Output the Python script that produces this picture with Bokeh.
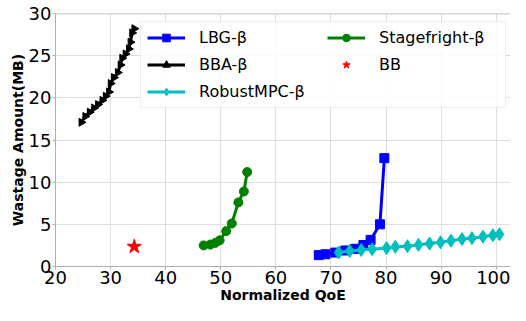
import numpy as np
from bokeh.plotting import figure
from bokeh.models import Range1d, FixedTicker, Legend, LegendItem, Span
from bokeh.embed import file_html
from bokeh.resources import INLINE

# ---- data ----
lbg_x = [67.8, 69.0, 70.8, 72.6, 74.4, 75.9, 77.2, 78.9, 79.7]
lbg_y = [1.35, 1.45, 1.65, 1.9, 2.1, 2.55, 3.15, 5.0, 12.85]

bba_x = [24.7, 25.4, 26.2, 27.0, 27.7, 28.5, 29.1, 29.7, 30.0, 30.6, 31.3, 31.8, 32.1, 32.7, 33.3, 33.6, 33.9, 34.3]
bba_y = [17.1, 17.8, 18.3, 18.8, 19.2, 19.7, 20.2, 20.7, 21.7, 22.4, 23.0, 23.9, 24.7, 25.2, 25.8, 26.6, 27.7, 28.2]

mpc_x = [71.4, 73.4, 75.5, 77.5, 80.1, 81.7, 83.9, 85.9, 87.9, 89.9, 91.8, 93.8, 95.6, 97.6, 99.4, 100.6]
mpc_y = [1.66, 1.85, 1.96, 2.04, 2.19, 2.34, 2.41, 2.57, 2.72, 2.87, 3.06, 3.25, 3.36, 3.54, 3.70, 3.82]

sf_x = [46.9, 48.1, 49.0, 49.8, 51.0, 52.0, 53.2, 54.2, 54.8]
sf_y = [2.5, 2.6, 2.8, 3.1, 4.2, 5.1, 7.6, 8.9, 11.2]

bb_x = [34.3]
bb_y = [2.35]

x_ticks = [20, 30, 40, 50, 60, 70, 80, 90, 100]
y_ticks = [0, 5, 10, 15, 20, 25, 30]

FONT = "DejaVu Sans"

p = figure(width=510, height=305, output_backend="svg", toolbar_location=None,
           x_range=Range1d(20, 102.6), y_range=Range1d(0, 30),
           min_border_left=55, min_border_right=0, min_border_top=13, min_border_bottom=0)

p.outline_line_color = None
p.background_fill_color = "white"

for ax in (p.xaxis, p.yaxis):
    ax.axis_line_color = "#b0b0b0"
    ax.major_tick_line_color = "#b0b0b0"
    ax.minor_tick_line_color = None
    ax.major_tick_out = 3
    ax.major_tick_in = 0
    ax.major_label_text_font = FONT
    ax.major_label_text_font_size = "18px"
    ax.major_label_text_color = "black"
    ax.axis_label_text_font = FONT
    ax.axis_label_text_font_style = "bold"
    ax.axis_label_text_font_size = "14px"
    ax.axis_label_text_color = "black"
    ax.major_label_standoff = 1
    ax.axis_label_standoff = 0

p.xaxis.ticker = FixedTicker(ticks=x_ticks)
p.yaxis.ticker = FixedTicker(ticks=y_ticks)
p.xaxis.axis_label = "Normalized QoE"
p.yaxis.axis_label = "Wastage Amount(MB)"

p.xgrid.ticker = FixedTicker(ticks=x_ticks)
p.ygrid.ticker = FixedTicker(ticks=y_ticks)
p.grid.grid_line_color = "#dedede"
p.grid.grid_line_width = 1

p.add_layout(Span(location=30, dimension="width", line_color="#b0b0b0", line_width=1.5))

LW = 3
r1l = p.line(lbg_x, lbg_y, line_color="#0000ff", line_width=LW)
r1m = p.scatter(lbg_x, lbg_y, marker="square", size=9, fill_color="#0000ff", line_color="#0000ff")

r2l = p.line(bba_x, bba_y, line_color="black", line_width=LW)
r2m = p.scatter(bba_x, bba_y, marker="triangle", angle=-np.pi / 2, size=8, fill_color="black", line_color="black")

r3l = p.line(mpc_x, mpc_y, line_color="#00bfbf", line_width=LW)
r3m = p.scatter(mpc_x, mpc_y, marker="diamond", size=13, fill_color="#00bfbf", line_color="#00bfbf")

r4l = p.line(sf_x, sf_y, line_color="#008000", line_width=LW)
r4m = p.scatter(sf_x, sf_y, marker="circle", size=9, fill_color="#008000", line_color="#008000")

r5m = p.scatter(bb_x, bb_y, marker="star", size=15, fill_color="#ff0000", line_color="#ff0000")

legend = Legend(items=[
    LegendItem(label="LBG-β", renderers=[r1l, r1m]),
    LegendItem(label="BBA-β", renderers=[r2l, r2m]),
    LegendItem(label="RobustMPC-β", renderers=[r3l, r3m]),
    LegendItem(label="Stagefright-β", renderers=[r4l, r4m]),
    LegendItem(label="BB", renderers=[r5m]),
], location=(85, 158), orientation="vertical", nrows=3)
legend.label_text_font = FONT
legend.label_text_font_size = "16px"
legend.label_text_color = "black"
legend.glyph_width = 38
legend.glyph_height = 19
legend.label_standoff = 14
legend.label_width = 120
legend.spacing = 8
legend.padding = 6
legend.margin = 0
legend.border_line_color = "#dddddd"
legend.border_line_width = 1
legend.background_fill_alpha = 0.85
p.add_layout(legend)

open("out.html", "w").write(file_html(p, INLINE))
